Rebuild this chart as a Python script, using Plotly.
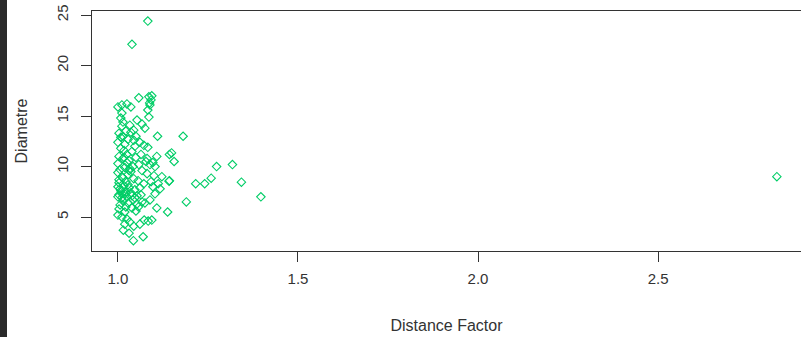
import plotly.graph_objects as go

# Distance Factor (x) and Diametre (y)
distance_factor = [
    1.083, 1.039, 2.830, 1.397, 1.343, 1.318, 1.274, 1.259, 1.241, 1.216,
    1.190, 1.181, 1.143, 1.149, 1.156, 1.143, 1.110, 1.108,
    1.086, 1.092, 1.088, 1.094, 1.058, 1.011, 1.000, 1.025, 1.036, 1.083,
    1.089, 1.086, 1.011, 1.008, 1.014, 1.011, 1.053, 1.067, 1.033, 1.022,
    1.036, 1.003, 1.014, 1.028, 1.044, 1.050, 1.075, 1.000, 1.019, 1.008,
    1.047, 1.061, 1.072, 1.083, 1.039, 1.025, 1.003, 1.014, 1.031, 1.050,
    1.064, 1.078, 1.089, 1.097, 1.103, 1.058, 1.042, 1.019, 1.006, 1.000,
    1.036, 1.067, 1.081, 1.100, 1.028, 1.011, 1.003, 1.022, 1.044, 1.056,
    1.072, 1.092, 1.112, 1.142, 1.017, 1.000, 1.031, 1.047, 1.061, 1.008,
    1.019, 1.003, 1.036, 1.025, 1.011, 1.000, 1.014, 1.028, 1.042, 1.053,
    1.067, 1.089, 1.103, 1.117, 1.006, 1.022, 1.039, 1.000, 1.011, 1.025,
    1.033, 1.019, 1.044, 1.015, 1.031, 1.043, 1.070, 1.073, 1.084, 1.094,
    1.138, 1.061, 1.050, 1.057, 1.019, 1.003, 1.008, 1.017, 1.025, 1.031,
    1.014, 1.022, 1.006, 1.039, 1.047, 1.003, 1.028, 1.011, 1.019, 1.033,
    1.064, 1.075, 1.097, 1.122, 1.108, 1.000, 1.017, 1.044, 1.053, 1.081,
]
diametre = [
    24.4, 22.1, 9.0, 7.0, 8.45, 10.2, 10.0, 8.85, 8.3, 8.3,
    6.5, 13.0, 11.2, 11.35, 10.5, 8.6, 13.0, 11.0,
    16.9, 16.6, 16.3, 17.0, 16.8, 16.1, 15.9, 16.2, 15.9, 15.6,
    16.1, 14.9, 15.3, 14.8, 14.4, 14.0, 14.6, 14.2, 14.1, 13.5,
    13.4, 13.3, 13.0, 12.7, 13.6, 13.0, 13.8, 12.4, 12.2, 11.8,
    12.0, 12.4, 12.1, 11.9, 11.5, 11.2, 11.0, 10.8, 10.6, 10.9,
    11.2, 10.5, 10.2, 10.4, 10.0, 10.2, 10.0, 9.9, 9.7, 10.3,
    9.5, 9.6, 9.3, 9.1, 9.2, 9.0, 8.7, 8.5, 8.8, 8.6,
    8.3, 8.5, 8.3, 8.55, 8.1, 8.0, 7.9, 7.7, 7.9, 7.6,
    7.3, 7.2, 7.4, 7.0, 6.9, 7.0, 6.6, 6.4, 6.7, 6.3,
    6.5, 6.7, 7.3, 7.8, 6.2, 6.0, 5.9, 5.2, 5.0, 4.8,
    4.5, 4.3, 4.1, 3.7, 3.4, 2.66, 3.05, 4.7, 4.6, 4.7,
    5.5, 4.3, 5.6, 6.0, 5.5, 5.8, 12.9, 11.6, 10.4, 9.6,
    8.9, 7.5, 7.8, 7.1, 6.9, 8.4, 8.2, 7.3, 6.8, 9.8,
    7.2, 6.4, 8.0, 9.0, 5.9, 9.4, 10.9, 12.6, 7.1, 10.8,
]

x_ticks = [1.0, 1.5, 2.0, 2.5]
x_tick_labels = ["1.0", "1.5", "2.0", "2.5"]
y_ticks = [5, 10, 15, 20, 25]
y_tick_labels = ["5", "10", "15", "20", "25"]

ink = "#333333"
green = "#00CD66"

fig = go.Figure(
    go.Scatter(
        x=distance_factor,
        y=diametre,
        mode="markers",
        marker=dict(symbol="diamond-open", size=6.5, color=green, line=dict(width=1.1, color=green)),
        hoverinfo="x+y",
    )
)

fig.update_layout(
    width=801,
    height=337,
    margin=dict(l=92, r=0, t=11, b=86, autoexpand=False),
    paper_bgcolor="white",
    plot_bgcolor="white",
    showlegend=False,
    font=dict(family="Liberation Sans, Arial, sans-serif", color=ink),
    xaxis=dict(
        range=[0.928, 2.897],
        tickvals=x_ticks,
        ticktext=x_tick_labels,
        ticks="outside",
        ticklen=10,
        tickcolor=ink,
        tickwidth=1,
        ticklabelstandoff=4,
        tickfont=dict(size=15, color=ink),
        showline=True,
        linecolor=ink,
        linewidth=1,
        mirror=True,
        showgrid=False,
        zeroline=False,
        automargin=False,
        title=dict(text="Distance Factor", font=dict(size=16, color=ink), standoff=33),
    ),
    yaxis=dict(
        range=[1.64, 25.4],
        tickvals=y_ticks,
        ticktext=y_tick_labels,
        tickangle=-90,
        ticks="outside",
        ticklen=10,
        tickcolor=ink,
        tickwidth=1,
        ticklabelstandoff=7,
        tickfont=dict(size=15, color=ink),
        showline=True,
        linecolor=ink,
        linewidth=1,
        mirror=False,
        showgrid=False,
        zeroline=False,
        automargin=False,
        title=dict(text="Diametre", font=dict(size=16, color=ink), standoff=22),
    ),
    shapes=[
        dict(type="rect", xref="paper", yref="paper",
             x0=-92 / 709, x1=-85 / 709, y0=-86 / 240, y1=1 + 11 / 240,
             fillcolor="#2a2a2a", line=dict(width=0), layer="above"),
    ],
)

fig.write_html(
    "out.html",
    config={"displayModeBar": False},
    post_script="document.body.style.margin='0';document.body.style.padding='0';document.body.style.overflow='hidden';",
)
